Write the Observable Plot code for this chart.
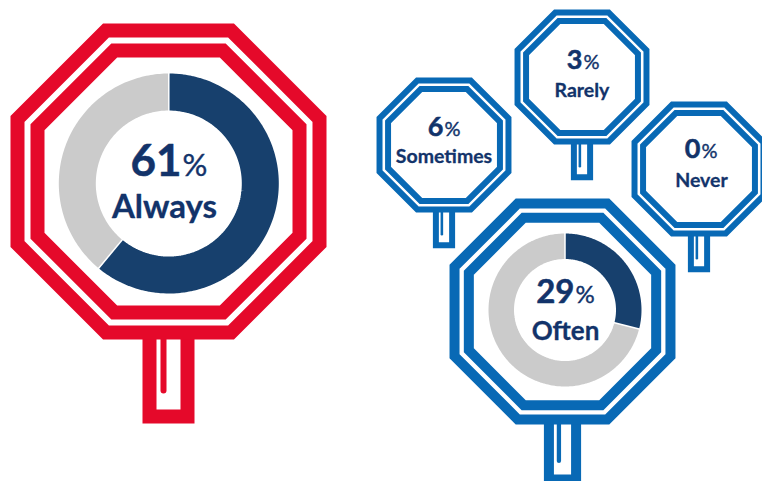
<!DOCTYPE html>
<html>
<head>
<meta charset="utf-8">
<style>html,body{margin:0;padding:0;background:#fff}svg{display:block}</style>
<script src="https://cdn.jsdelivr.net/npm/d3@7"></script>
<script src="https://cdn.jsdelivr.net/npm/@observablehq/plot@0.6"></script>
</head>
<body>
<script>
// Data
const categories = ["Always", "Often", "Sometimes", "Rarely", "Never"];
const shares = [61, 29, 6, 3, 0];
const hasDonut = ["Always", "Often"];

// Layout (sign furniture, in pixels of the 762x481 page)
const signCx = [168, 562, 443.5, 581.5, 698.5];
const signCy = [181, 311, 144.5, 76.5, 168.5];
const signScale = [1, 0.715, 0.427, 0.427, 0.427];
const signColor = ["#e5092a", "#0869b5", "#0869b5", "#0869b5", "#0869b5"];
const donutCx = [168.3, 564.5];
const donutCy = [183, 309.5];
const donutOuter = [110, 76.5];
const donutInner = [73, 51];
const numberEnd = [181, 574, 443, 582, 700];
const numberBase = [175, 302, 135, 68, 157];
const numberSize = [44, 33, 27, 27, 27];
const percentSize = [31, 24, 20, 20, 20];
const labelX = [164, 565, 443.5, 581.5, 701];
const labelBase = [217, 339, 162, 96, 186];
const labelSize = [33, 26, 19.5, 19.5, 19.5];

const NAVY = "#17406d", GRAY = "#cbcbcb", TEXT = "#12336a";

const octagon = (cx, cy, h) => {
  const c = h * Math.tan(Math.PI / 8);
  return [[c,-h],[h,-c],[h,c],[c,h],[-c,h],[-h,c],[-h,-c],[-c,-h]]
    .map(([dx, dy]) => ({x: cx + dx, y: cy + dy}));
};
const arc = (cx, cy, r, a0, a1) =>
  d3.range(0, 121).map((i) => {
    const a = (a0 + (a1 - a0) * i / 120) * 2 * Math.PI / 100;
    return {x: cx + r * Math.sin(a), y: cy - r * Math.cos(a)};
  });

const marks = [];
categories.forEach((name, i) => {
  const cx = signCx[i], cy = signCy[i], s = signScale[i], color = signColor[i];
  const lineOpts = {x: "x", y: "y", stroke: color, strokeLinejoin: "miter", strokeMiterlimit: 4, strokeLinecap: "butt"};
  // pole
  const top = cy + 150 * s;
  marks.push(Plot.line([
    {x: cx - 19 * s, y: top}, {x: cx - 19 * s, y: cy + 235 * s},
    {x: cx + 19 * s, y: cy + 235 * s}, {x: cx + 19 * s, y: top}
  ], {...lineOpts, strokeWidth: 14 * s}));
  marks.push(Plot.line([
    {x: cx - 5 * s, y: top}, {x: cx - 5 * s, y: cy + 209 * s}
  ], {...lineOpts, strokeLinecap: "round", strokeWidth: 6 * s}));
  // double octagon
  for (const h of [151, 131]) {
    marks.push(Plot.line(octagon(cx, cy, h * s), {...lineOpts, curve: "linear-closed", strokeWidth: 14 * s}));
  }
  // donut
  const d = hasDonut.indexOf(name);
  if (d >= 0) {
    const dx = donutCx[d], dy = donutCy[d], R = donutOuter[d], r = donutInner[d], v = shares[i];
    const mid = (R + r) / 2;
    const arcOpts = {x: "x", y: "y", strokeWidth: R - r, strokeLinecap: "butt", curve: "linear"};
    marks.push(Plot.line(arc(dx, dy, mid, v, 100), {...arcOpts, stroke: GRAY}));
    marks.push(Plot.line(arc(dx, dy, mid, 0, v), {...arcOpts, stroke: NAVY}));
    for (const p of [0, v]) {
      const a = arc(dx, dy, r - 1, p, p)[0], b = arc(dx, dy, R + 1, p, p)[0];
      marks.push(Plot.link([{x1: a.x, y1: a.y, x2: b.x, y2: b.y}],
        {x1: "x1", y1: "y1", x2: "x2", y2: "y2", stroke: "#fff", strokeWidth: 1.5}));
    }
  }
  // texts
  const common = {x: "x", y: "y", text: "t", lineAnchor: "bottom", fontFamily: "Lato", fill: TEXT, stroke: TEXT};
  marks.push(Plot.text([{x: numberEnd[i], y: numberBase[i], t: String(shares[i])}],
    {...common, textAnchor: "end", fontSize: numberSize[i], fontWeight: 700, strokeWidth: 0.5}));
  marks.push(Plot.text([{x: numberEnd[i] + 1, y: numberBase[i], t: "%"}],
    {...common, textAnchor: "start", fontSize: percentSize[i], fontWeight: 400, strokeWidth: 0.4}));
  marks.push(Plot.text([{x: labelX[i], y: labelBase[i], t: name}],
    {...common, textAnchor: "middle", fontSize: labelSize[i], fontWeight: 700, strokeWidth: 0.3}));
});

document.body.append(Plot.plot({
  width: 762, height: 481,
  margin: 0,
  x: {domain: [0, 762], range: [0, 762], axis: null},
  y: {domain: [0, 481], range: [0, 481], axis: null},
  style: {background: "#fff"},
  marks
}));
</script>
</body>
</html>
